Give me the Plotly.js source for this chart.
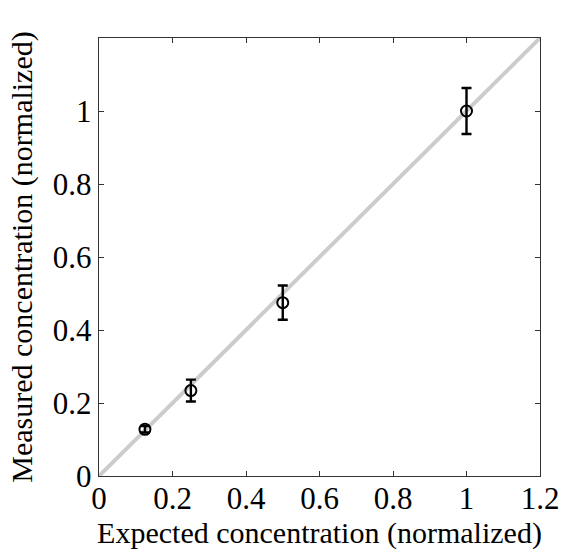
<!DOCTYPE html>
<html><head><meta charset="utf-8">
<script src="https://cdn.plot.ly/plotly-3.0.1.min.js"></script>
<style>body{margin:0;padding:0;background:#fff}</style>
</head><body>
<div id="chart" style="width:561px;height:553px"></div>
<script>
var expected = [0.125, 0.25, 0.5, 1.0];
var measured = [0.128, 0.234, 0.475, 1.0];
var errors = [0.009, 0.03, 0.047, 0.063];
var lineX = [0, 1.2];
var lineY = [0, 1.2];
var xTicks = [0, 0.2, 0.4, 0.6, 0.8, 1, 1.2];
var yTicks = [0, 0.2, 0.4, 0.6, 0.8, 1];

var fam = 'Liberation Serif';
var data = [
  {x: lineX, y: lineY, mode: 'lines', line: {color: '#cccccc', width: 4}, hoverinfo: 'skip'},
  {x: expected, y: measured, mode: 'markers', type: 'scatter',
   marker: {symbol: 'circle-open', size: 11, color: '#000', line: {width: 2, color: '#000'}},
   error_y: {type: 'data', array: errors, visible: true, color: '#000', thickness: 2.4, width: 5}}
];
function axis(ticks, titleText, standoff, labelStandoff) {
  return {showgrid: false, zeroline: false, showline: true, mirror: 'ticks',
    linecolor: '#333', linewidth: 1.2, ticks: 'inside', ticklen: 5, tickcolor: '#333',
    tickfont: {family: fam, size: 31, color: '#000'}, ticklabelstandoff: labelStandoff,
    range: [0, 1.2], tickmode: 'array', tickvals: ticks, ticktext: ticks.map(String),
    title: {text: titleText, font: {family: fam, size: 30, color: '#000'}, standoff: standoff}};
}
var layout = {
  width: 561, height: 553, showlegend: false,
  font: {family: fam, size: 31, color: '#000'},
  paper_bgcolor: '#fff', plot_bgcolor: '#fff',
  margin: {l: 99, r: 21, t: 38, b: 77},
  xaxis: axis(xTicks, 'Expected concentration (normalized)', 0, -5),
  yaxis: axis(yTicks, 'Measured concentration (normalized)', 11, 0)
};
Plotly.newPlot('chart', data, layout, {displayModeBar: false, staticPlot: true});
</script>
</body></html>
